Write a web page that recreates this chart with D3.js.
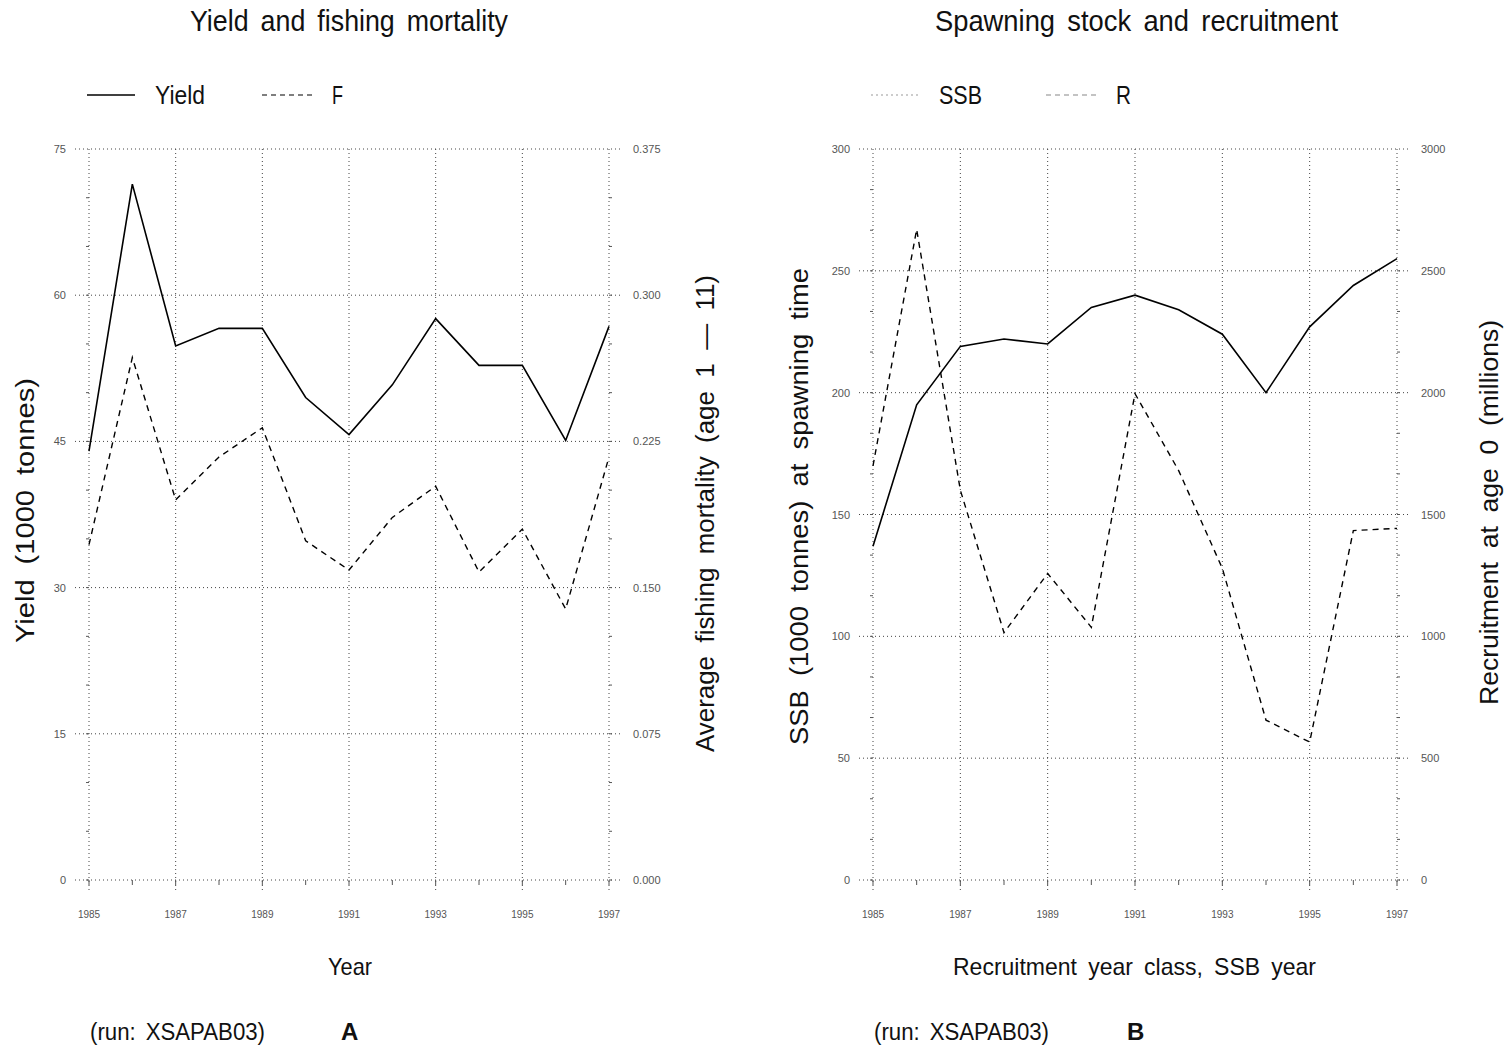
<!DOCTYPE html>
<html>
<head>
<meta charset="utf-8">
<script src="https://cdn.jsdelivr.net/npm/d3@7"></script>
<style>
  html, body { margin: 0; padding: 0; background: #fff; }
  svg { display: block; }
  text { font-family: "Liberation Sans", Arial, sans-serif; fill: #111; }
</style>
</head>
<body>
<svg id="chart" width="1510" height="1050"></svg>
<script>
// Stock assessment summary, 1985-1997
const years = [1985, 1986, 1987, 1988, 1989, 1990, 1991, 1992, 1993, 1994, 1995, 1996, 1997];
const yearTicks = [1985, 1987, 1989, 1991, 1993, 1995, 1997];

// Panel A: yield (1000 t) and average fishing mortality
const yieldValues = [44.0, 71.4, 54.8, 56.6, 56.6, 49.5, 45.7, 50.8, 57.6, 52.8, 52.8, 45.1, 56.8];
const fValues = [0.172, 0.268, 0.195, 0.217, 0.232, 0.174, 0.159, 0.186, 0.202, 0.158, 0.180, 0.139, 0.217];
const yieldTicks = [0, 15, 30, 45, 60, 75];
const fTicks = [0, 0.075, 0.150, 0.225, 0.300, 0.375];

// Panel B: spawning stock biomass (1000 t) and recruitment (millions)
const ssbValues = [137, 195, 219, 222, 220, 235, 240, 234, 224, 200, 227, 244, 255];
const recValues = [1700, 2670, 1600, 1015, 1258, 1037, 1996, 1680, 1279, 656, 566, 1434, 1443];
const ssbTicks = [0, 50, 100, 150, 200, 250, 300];
const recTicks = [0, 500, 1000, 1500, 2000, 2500, 3000];

const svg = d3.select("#chart");

// condensed lettering with wide word gaps, fitted to a given run length
function label(parent, str, size, len, wordGap) {
  return parent.append("text")
    .attr("font-size", size)
    .attr("word-spacing", wordGap)
    .attr("textLength", len)
    .attr("lengthAdjust", "spacingAndGlyphs")
    .text(str);
}

function panel(cfg) {
  const g = svg.append("g");
  const x = d3.scaleLinear().domain([1985, 1997]).range([cfg.x0, cfg.x1]);
  const yL = d3.scaleLinear().domain(cfg.leftDomain).range([880, 149]);
  const yR = d3.scaleLinear().domain(cfg.rightDomain).range([880, 149]);

  // dotted grid
  const grid = g.append("g").attr("stroke", "#444").attr("stroke-width", 1)
    .attr("stroke-dasharray", "1,3").attr("fill", "none");
  grid.selectAll("line.h").data(cfg.leftTicks).join("line")
    .attr("x1", cfg.x0 - 14).attr("x2", cfg.x1 + 12)
    .attr("y1", d => yL(d)).attr("y2", d => yL(d));
  grid.selectAll("line.v").data(yearTicks).join("line")
    .attr("x1", d => x(d)).attr("x2", d => x(d))
    .attr("y1", 149).attr("y2", 893);

  // minor ticks on both value axes
  const minorL = d3.range(cfg.leftDomain[0], cfg.leftDomain[1], (cfg.leftTicks[1] - cfg.leftTicks[0]) / 3);
  g.append("g").attr("stroke", "#555").attr("stroke-width", 1)
    .selectAll("line").data(minorL).join("line")
    .attr("x1", cfg.x0 - 3).attr("x2", cfg.x0)
    .attr("y1", d => yL(d)).attr("y2", d => yL(d));
  g.append("g").attr("stroke", "#555").attr("stroke-width", 1)
    .selectAll("line").data(minorL).join("line")
    .attr("x1", cfg.x1).attr("x2", cfg.x1 + 3)
    .attr("y1", d => yL(d)).attr("y2", d => yL(d));

  // minor year ticks
  g.append("g").attr("stroke", "#555")
    .selectAll("line").data(years).join("line")
    .attr("x1", d => x(d)).attr("x2", d => x(d))
    .attr("y1", 880).attr("y2", 885);

  // tick labels
  g.append("g").selectAll("text").data(cfg.leftTicks).join("text")
    .attr("x", cfg.x0 - 23).attr("y", d => yL(d) + 4)
    .attr("text-anchor", "end").attr("font-size", 11).style("fill", "#555")
    .text(d => d);
  g.append("g").selectAll("text").data(cfg.rightTicks).join("text")
    .attr("x", cfg.x1 + 24).attr("y", d => yR(d) + 4)
    .attr("text-anchor", "start").attr("font-size", 11).style("fill", "#555")
    .text(cfg.rightFormat);
  g.append("g").selectAll("text").data(yearTicks).join("text")
    .attr("x", d => x(d)).attr("y", 918)
    .attr("text-anchor", "middle").attr("font-size", 10).style("fill", "#555")
    .text(d => d);

  // series
  const lineL = d3.line().x((d, i) => x(years[i])).y(d => yL(d));
  const lineR = d3.line().x((d, i) => x(years[i])).y(d => yR(d));
  g.append("path").datum(cfg.leftValues).attr("d", lineL)
    .attr("fill", "none").attr("stroke", "#000").attr("stroke-width", 1.6);
  g.append("path").datum(cfg.rightValues).attr("d", lineR)
    .attr("fill", "none").attr("stroke", "#000").attr("stroke-width", 1.4)
    .attr("stroke-dasharray", "6,5");

  // titles
  label(g, cfg.title, 29, cfg.titleLen, 5)
    .attr("x", cfg.titleX).attr("y", 31);
  label(g, cfg.xTitle, 24, cfg.xTitleLen, 5)
    .attr("x", cfg.xTitleX).attr("y", 975);
  label(g, cfg.leftTitle, 25, cfg.leftTitleLen, 6)
    .attr("transform", `translate(${cfg.leftTitleX},${cfg.leftTitleY}) rotate(-90)`);
  label(g, cfg.rightTitle, 25, cfg.rightTitleLen, 6)
    .attr("transform", `translate(${cfg.rightTitleX},${cfg.rightTitleY}) rotate(-90)`);
  label(g, "(run: XSAPAB03)", 23, 175, 4).attr("x", cfg.x0 + 1).attr("y", 1040);
  g.append("text").attr("x", cfg.letterX).attr("y", 1040)
    .attr("font-size", 24).attr("font-weight", "bold").text(cfg.letter);

  // legend
  const lg = g.append("g");
  lg.append("line").attr("x1", cfg.x0 - 2).attr("x2", cfg.x0 + 46).attr("y1", 95).attr("y2", 95)
    .attr("stroke", cfg.legendFaint ? "#999" : "#000").attr("stroke-width", cfg.legendFaint ? 1 : 1.4)
    .attr("stroke-dasharray", cfg.legendFaint ? "2,3" : null);
  label(lg, cfg.leftName, 26, cfg.leftNameLen, 0).attr("x", cfg.x0 + 66).attr("y", 104);
  lg.append("line").attr("x1", cfg.x0 + 173).attr("x2", cfg.x0 + 223).attr("y1", 95).attr("y2", 95)
    .attr("stroke", cfg.legendFaint ? "#888" : "#000").attr("stroke-width", 1.2)
    .attr("stroke-dasharray", "5,4");
  label(lg, cfg.rightName, 26, cfg.rightNameLen, 0).attr("x", cfg.x0 + 243).attr("y", 104);
}

panel({
  x0: 89, x1: 609,
  leftDomain: [0, 75], rightDomain: [0, 0.375],
  leftTicks: yieldTicks, rightTicks: fTicks,
  rightFormat: d3.format(".3f"),
  leftValues: yieldValues, rightValues: fValues,
  title: "Yield and fishing mortality", titleLen: 318, titleX: 190,
  xTitle: "Year", xTitleLen: 44, xTitleX: 328,
  leftTitle: "Yield (1000 tonnes)", leftTitleLen: 265, leftTitleX: 34, leftTitleY: 643,
  rightTitle: "Average fishing mortality (age 1 \u2014 11)", rightTitleLen: 477, rightTitleX: 714, rightTitleY: 752,
  letter: "A", letterX: 341,
  leftName: "Yield", leftNameLen: 50, rightName: "F", rightNameLen: 11, legendFaint: false
});

panel({
  x0: 873, x1: 1397,
  leftDomain: [0, 300], rightDomain: [0, 3000],
  leftTicks: ssbTicks, rightTicks: recTicks,
  rightFormat: d => d,
  leftValues: ssbValues, rightValues: recValues,
  title: "Spawning stock and recruitment", titleLen: 403, titleX: 935,
  xTitle: "Recruitment year class, SSB year", xTitleLen: 363, xTitleX: 953,
  leftTitle: "SSB (1000 tonnes) at spawning time", leftTitleLen: 477, leftTitleX: 808, leftTitleY: 745,
  rightTitle: "Recruitment at age 0 (millions)", rightTitleLen: 385, rightTitleX: 1498, rightTitleY: 705,
  letter: "B", letterX: 1127,
  leftName: "SSB", leftNameLen: 43, rightName: "R", rightNameLen: 15, legendFaint: true
});
</script>
</body>
</html>
